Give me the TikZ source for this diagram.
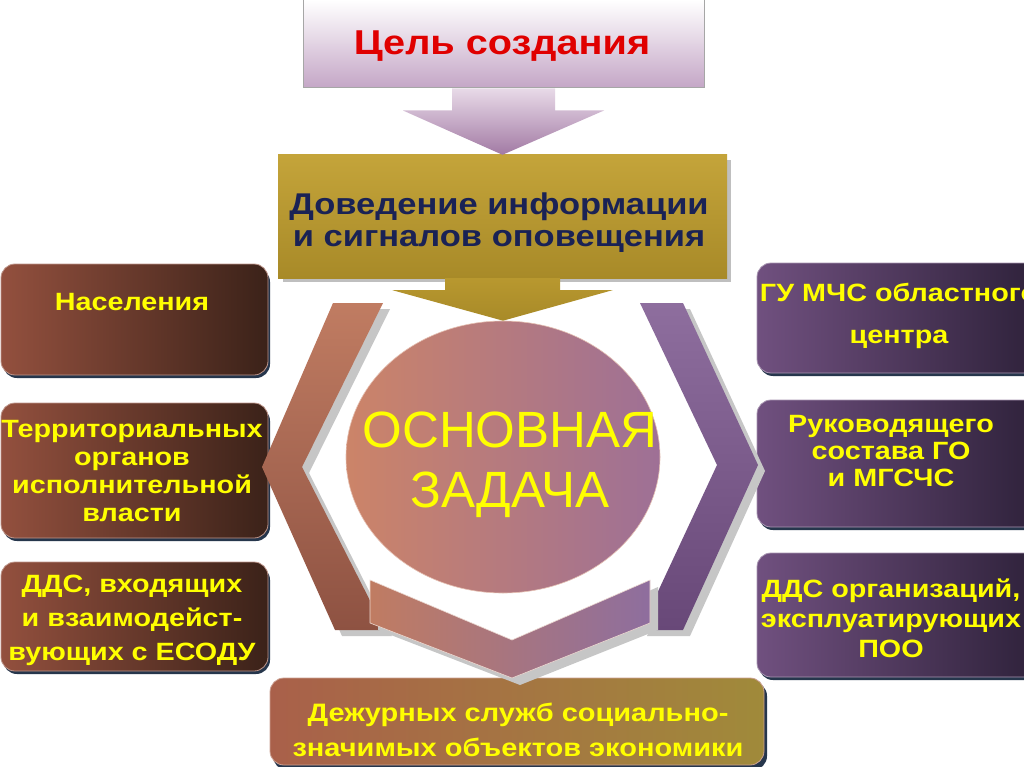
\documentclass[tikz,border=0pt]{standalone}
\usepackage{fontspec}
\setmainfont{Liberation Sans}
\newfontfamily\wf[FakeStretch=1.15]{Liberation Sans}
\usetikzlibrary{calc,shapes.geometric}
\definecolor{lbL}{HTML}{93503E}\definecolor{lbR}{HTML}{3B2219}
\definecolor{rbL}{HTML}{70507F}\definecolor{rbR}{HTML}{2C2038}
\definecolor{bbL}{HTML}{A9604A}\definecolor{bbR}{HTML}{A08A3A}
\definecolor{gold}{HTML}{B8982F}\definecolor{goldL}{HTML}{C4A43A}\definecolor{goldD}{HTML}{A88A28}
\definecolor{lav}{HTML}{C4A6C6}\definecolor{lavA}{HTML}{E8DAE8}\definecolor{lavB}{HTML}{A27AA4}
\definecolor{cirL}{HTML}{CC8468}\definecolor{cirR}{HTML}{9E7096}
\definecolor{chL}{HTML}{C07C62}\definecolor{chLd}{HTML}{8E5242}
\definecolor{chR}{HTML}{8E6E9E}\definecolor{chRd}{HTML}{684878}
\definecolor{navy}{HTML}{1A2255}\definecolor{ttlred}{HTML}{E00000}
\definecolor{yel}{HTML}{FFFF00}\definecolor{shad}{HTML}{26364C}
\tikzset{
  lbox/.style={rounded corners=14pt, left color=lbL, right color=lbR, draw=lbL!60!white, line width=0.8pt, minimum width=267pt, inner sep=0pt},
  rbox/.style={rounded corners=14pt, left color=rbL, right color=rbR, draw=rbL!60!white, line width=0.8pt, minimum width=290pt, inner sep=0pt},
  bbox/.style={rounded corners=14pt, left color=bbL, right color=bbR, draw=bbL!60!white, line width=0.8pt, inner sep=0pt},
  ytxt/.style={text=yel, align=center, inner sep=0pt},
  shadowbox/.style={fill=shad, rounded corners=14pt},
  chshadow/.style={fill=gray!45},
}
\begin{document}
\begin{tikzpicture}[x=1pt,y=-1pt]
\useasboundingbox (0,0) rectangle (1024,767);
\fill[white] (0,0) rectangle (1024,767);

% ---- top box
\node[draw=gray!70, line width=1pt, top color=white, bottom color=lav, minimum width=401pt, minimum height=88pt, inner sep=0pt] (goal) at (503.5,44) {};
\node[text=ttlred, inner sep=0pt, font=\wf\bfseries\fontsize{34.5}{38}\selectfont] (goaltxt) at (502,46) {Цель создания};

% ---- gold box
\fill[black!25] (283,160) rectangle (731,282);
\node[fill=gold, top color=goldL, bottom color=goldD, minimum width=449pt, minimum height=123pt, inner sep=0pt] (info) at (502.5,216.5) {};
\node[text=navy, align=center, inner sep=0pt, font=\wf\bfseries\fontsize{30}{32}\selectfont] (infotxt) at (499,223) {Доведение информации\\ и сигналов оповещения};

% ---- top arrow (goal -> info)
\path[top color=lavA, bottom color=lavB]
  ($(goal.south)+(-51.5,0)$) -- ($(goal.south)+(51.5,0)$) -- ($(goal.south)+(51.5,22)$) -- ($(goal.south)+(100.5,22)$)
  -- (info.north) -- ($(goal.south)+(-100.5,22)$) -- ($(goal.south)+(-51.5,22)$) -- cycle;

% ---- left boxes
\fill[shadowbox] (3,268) rectangle (270,378);
\node[lbox, minimum height=111pt] (L1) at (134.5,319.5) {};
\node[ytxt, font=\wf\bfseries\fontsize{25}{28}\selectfont] (L1t) at (132,302) {Населения};
\fill[shadowbox] (3,407) rectangle (270,541);
\node[lbox, minimum height=135pt] (L2) at (134.5,470.5) {};
\node[ytxt, font=\wf\bfseries\fontsize{25}{28}\selectfont] (L2t) at (132,471) {Территориальных\\органов\\исполнительной\\власти};
\fill[shadowbox] (3,566) rectangle (270,674);
\node[lbox, minimum height=109pt] (L3) at (134.5,616.5) {};
\node[ytxt, font=\wf\bfseries\fontsize{25}{34}\selectfont] (L3t) at (132,620) {ДДС, входящих\\и взаимодейст-\\вующих с ЕСОДУ};

% ---- right boxes
\fill[shadowbox] (759,267) rectangle (1050,376);
\node[rbox, minimum height=110pt] (R1) at (902,318) {};
\node[ytxt, font=\wf\bfseries\fontsize{25}{42}\selectfont] (R1t) at (899,316) {ГУ МЧС областного\\центра};
\fill[shadowbox] (759,404) rectangle (1050,530);
\node[rbox, minimum height=127pt] (R2) at (902,463.5) {};
\node[ytxt, font=\wf\bfseries\fontsize{25}{27}\selectfont] (R2t) at (891,451) {Руководящего\\состава ГО\\и МГСЧС};
\fill[shadowbox] (759,557) rectangle (1050,680);
\node[rbox, minimum height=124pt] (R3) at (902,615) {};
\node[ytxt, font=\wf\bfseries\fontsize{25}{30}\selectfont] (R3t) at (891,618) {ДДС организаций,\\эксплуатирующих\\ПОО};

% ---- bottom box
\fill[shadowbox] (273,682) rectangle (767,770);
\node[bbox, minimum width=494pt, minimum height=87pt] (B) at (517,721.5) {};
\node[ytxt, font=\wf\bfseries\fontsize{25.2}{35}\selectfont] (Bt) at (518,730) {Дежурных служб социально-\\значимых объектов экономики};

% ---- chevrons
\fill[chshadow] (340,309) -- (390,309) -- (309,473) -- (392,636) -- (342,636) -- (269,473) -- cycle;
\path[top color=chL, bottom color=chLd] (333,303) -- (383,303) -- (302,467) -- (385,630) -- (335,630) -- (262,467) -- cycle;
\fill[chshadow] (647,309) -- (690,309) -- (765,471) -- (690,636) -- (647,636) -- (724,471) -- cycle;
\path[top color=chR, bottom color=chRd] (640,303) -- (683,303) -- (758,465) -- (683,630) -- (640,630) -- (717,465) -- cycle;

% ---- central ellipse
\node[ellipse, minimum width=314pt, minimum height=272pt, inner sep=0pt, left color=cirL, right color=cirR, draw=cirL!50!white, line width=0.6pt] (task) at (503,457) {};
\node[text=yel, align=center, inner sep=0pt, font=\fontsize{51}{60}\selectfont] (tasktxt) at (510,465) {ОСНОВНАЯ\\ЗАДАЧА};

% ---- gold arrow (info -> task)
\path[top color=gold, bottom color=goldD]
  ($(info.south)+(-57.5,0)$) -- ($(info.south)+(57.5,0)$) -- ($(info.south)+(57.5,12)$) -- ($(info.south)+(110,12)$)
  -- (task.north) -- ($(info.south)+(-110,12)$) -- ($(info.south)+(-57.5,12)$) -- cycle;

% ---- bottom V chevron
\fill[chshadow] (378,587) -- (520,647) -- (658,587) -- (658,630) -- (520,685) -- (378,630) -- cycle;
\path[left color=chL, right color=chR, draw=white!70!chL, line width=0.6pt] (370,580) -- (512,640) -- (650,580) -- (650,623) -- (512,678) -- (370,623) -- cycle;
\end{tikzpicture}
\end{document}
